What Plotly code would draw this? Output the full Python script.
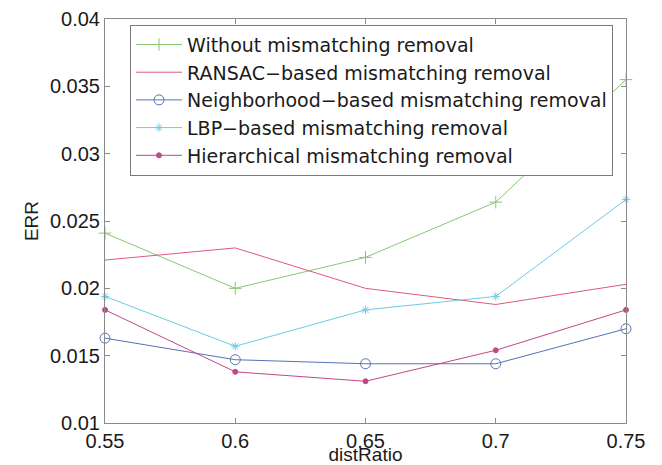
import plotly.graph_objects as go

dist_ratio = [0.55, 0.60, 0.65, 0.70, 0.75]

err_without = [0.0241, 0.0200, 0.0223, 0.0264, 0.0355]
err_ransac = [0.0221, 0.0230, 0.0200, 0.0188, 0.0203]
err_neighborhood = [0.0163, 0.0147, 0.0144, 0.0144, 0.0170]
err_lbp = [0.0194, 0.0157, 0.0184, 0.0194, 0.0266]
err_hierarchical = [0.0184, 0.0138, 0.0131, 0.0154, 0.0184]

series = [
    ("Without mismatching removal", err_without, "#86c86f", "cross-thin-open", 9),
    ("RANSAC\u2212based mismatching removal", err_ransac, "#e0587a", None, 0),
    ("Neighborhood\u2212based mismatching removal", err_neighborhood, "#5573b5", "circle-open", 10),
    ("LBP\u2212based mismatching removal", err_lbp, "#6ccbe6", "asterisk-open", 7),
    ("Hierarchical mismatching removal", err_hierarchical, "#c4468a", "circle", 5),
]

fig = go.Figure()
for name, vals, color, symbol, size in series:
    mode = "lines+markers" if symbol else "lines"
    marker = dict(color=color, size=size, symbol=symbol,
                  line=dict(color=color, width=1)) if symbol else None
    fig.add_trace(go.Scatter(
        x=dist_ratio, y=vals, name=name, mode=mode,
        line=dict(color=color, width=1),
        marker=marker, cliponaxis=False,
    ))

family = "Liberation Sans, Arial, sans-serif"
tick_font = dict(family=family, size=20, color="#1a1a1a")
title_font = dict(family=family, size=19, color="#1a1a1a")

fig.update_layout(
    width=662, height=465,
    margin=dict(l=105, r=36, t=19, b=42),
    paper_bgcolor="white", plot_bgcolor="white",
    font=tick_font,
    showlegend=True,
    legend=dict(
        x=0.048, y=0.986, xanchor="left", yanchor="top",
        bgcolor="white", bordercolor="#7a7a7a", borderwidth=1,
        font=dict(family="DejaVu Sans, sans-serif", size=19, color="#1a1a1a"),
        itemwidth=46,
    ),
    xaxis=dict(
        range=[0.55, 0.75], tickvals=dist_ratio,
        ticktext=["0.55", "0.6", "0.65", "0.7", "0.75"],
        showgrid=False, zeroline=False, automargin=False,
        showline=True, linecolor="#8a8a8a", linewidth=1, mirror="ticks",
        ticks="inside", ticklen=5, tickcolor="#8a8a8a", tickfont=tick_font,
        title=dict(text="distRatio", standoff=3, font=title_font),
    ),
    yaxis=dict(
        range=[0.01, 0.04], tickvals=[0.01, 0.015, 0.02, 0.025, 0.03, 0.035, 0.04],
        ticktext=["0.01", "0.015", "0.02", "0.025", "0.03", "0.035", "0.04"],
        showgrid=False, zeroline=False, automargin=False,
        showline=True, linecolor="#8a8a8a", linewidth=1, mirror="ticks",
        ticks="inside", ticklen=5, tickcolor="#8a8a8a", tickfont=tick_font,
        title=dict(text="ERR", standoff=6, font=title_font),
    ),
)

fig.write_html("out.html")
